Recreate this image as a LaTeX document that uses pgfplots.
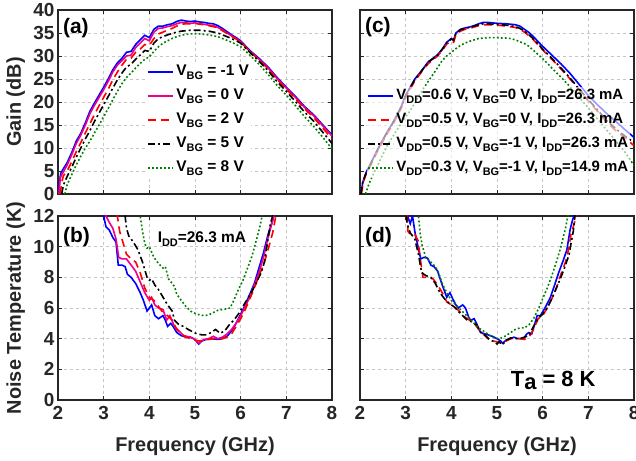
\documentclass[border=0pt]{standalone}
\usepackage{fontspec}
\setmainfont{Liberation Sans}
\usepackage{pgfplots}
\pgfplotsset{compat=1.18}

\definecolor{axgray}{RGB}{38,38,38}
\definecolor{mgreen}{RGB}{0,128,0}

\newcommand\fT{\fontsize{19}{22}\selectfont\bfseries}
\newcommand\fL{\fontsize{20}{24}\selectfont\bfseries}
\newcommand\fG{\fontsize{15.5}{18}\selectfont\bfseries}
\newcommand\fGc{\fontsize{15}{18}\selectfont\bfseries}
\newcommand\fP{\fontsize{21}{24}\selectfont\bfseries}
\newcommand\sub[1]{\raisebox{-4bp}{\fontsize{11}{11}\selectfont\bfseries #1}}

\pgfplotsset{
  panel/.style={
    width=274bp, height=184bp, scale only axis, anchor=south west,
    xmin=2, xmax=8, xtick={2,...,8},
    grid=major, grid style={dashed, gray!45, line width=0.5bp},
    axis line style={line width=1.4bp, draw=axgray},
    tick style={line width=0.8bp, draw=axgray},
    tick align=inside, major tick length=4bp,
    ticklabel style={font=\fT, text=axgray},
    xticklabel style={yshift=-3bp},
    /pgf/number format/assume math mode=true,
    every axis x label/.style={at={(axis description cs:0.5,0)}, anchor=base, yshift=-52bp, font=\fL, text=axgray},
    every axis y label/.style={at={([xshift=-37bp]axis description cs:0,0.5)}, rotate=90, anchor=base, font=\fL, text=axgray},
    every axis plot/.append style={line width=1.6bp},
    legend image code/.code={\draw[#1] (0bp,0bp) -- (25bp,0bp);},
    legend cell align=left,
  },
  lgd/.style={legend style={font=\fG, draw=none, inner sep=0bp, row sep=5bp,
    nodes={text height=11.5bp, text depth=4.5bp, inner sep=1.5bp},
    /tikz/every odd column/.append style={column sep=1bp}}},
  sB/.style={blue, solid},
  sM/.style={magenta, solid},
  sR/.style={red, dash pattern=on 8bp off 5bp},
  sK/.style={black, dash pattern=on 7bp off 3bp on 2bp off 3bp},
  sG/.style={mgreen, dash pattern=on 1.8bp off 2.2bp},
}

\begin{document}
\begin{tikzpicture}[x=1bp,y=1bp]

% ---------------- (a) gain vs V_BG
\begin{axis}[panel, lgd, at={(58bp,267bp)}, ymin=0, ymax=40, ytick={0,5,...,40},
  xticklabels={}, ylabel={Gain (dB)},
  legend style={fill=white, at={(0.325,0.715)}, anchor=north west}]
\addplot[sB] table {
2.00 0
2.03 2.5
2.06 4.5
2.10 5.2
2.2 6.8
2.3 9.0
2.4 11.5
2.5 13.2
2.6 15.5
2.7 18.0
2.8 19.8
2.9 21.5
3.0 23.2
3.1 25.0
3.2 27.0
3.3 28.5
3.4 29.5
3.5 30.8
3.6 31.0
3.7 32.5
3.8 33.5
3.9 34.5
4.0 34.0
4.1 35.8
4.2 36.5
4.3 36.5
4.4 36.8
4.5 37.0
4.6 37.5
4.7 37.8
4.8 37.6
4.9 37.5
5.0 37.6
5.1 37.4
5.2 37.3
5.3 37.1
5.4 37.0
5.5 36.6
5.6 36.0
5.7 35.3
5.8 34.6
5.9 34.0
6.0 33.3
6.2 31.2
6.4 29.5
6.6 27.6
6.8 25.3
7.0 23.2
7.2 21.2
7.4 19.0
7.6 17.2
7.8 15.0
8.0 12.8
};
\addplot[sM] table {
2.02 0
2.05 3.5
2.1 4.5
2.2 6.3
2.3 8.5
2.4 11.0
2.5 12.8
2.6 15.0
2.7 17.5
2.8 19.3
2.9 21.0
3.0 22.7
3.1 24.5
3.2 26.5
3.3 28.0
3.4 29.0
3.5 30.0
3.6 30.2
3.7 31.8
3.8 32.8
3.9 33.8
4.0 33.3
4.1 35.2
4.2 36.0
4.3 36.1
4.4 36.4
4.5 36.6
4.6 37.0
4.7 37.3
4.8 37.2
4.9 37.1
5.0 37.2
5.1 37.0
5.2 36.9
5.3 36.7
5.4 36.6
5.5 36.2
5.6 35.7
5.7 35.0
5.8 34.4
5.9 33.8
6.0 33.1
6.2 31.0
6.4 29.3
6.6 27.4
6.8 25.1
7.0 23.0
7.2 21.0
7.4 18.8
7.6 17.0
7.8 14.8
8.0 12.6
};
\addplot[sR] table {
2.05 0
2.08 2.5
2.12 4.0
2.2 5.0
2.3 7.0
2.4 9.2
2.5 11.2
2.6 13.3
2.7 15.3
2.8 17.3
2.9 19.2
3.0 21.0
3.1 22.8
3.2 24.8
3.3 26.5
3.4 28.0
3.5 29.3
3.6 29.5
3.7 30.8
3.8 31.5
3.9 32.5
4.0 32.3
4.1 33.8
4.2 34.8
4.3 35.2
4.4 35.6
4.5 36.0
4.6 36.5
4.7 36.9
4.8 37.0
4.9 37.0
5.0 37.1
5.1 36.9
5.2 36.8
5.3 36.6
5.4 36.4
5.5 36.1
5.6 35.5
5.7 34.9
5.8 34.3
5.9 33.7
6.0 33.0
6.2 31.0
6.4 29.2
6.6 27.2
6.8 24.9
7.0 22.8
7.2 20.7
7.4 18.5
7.6 16.6
7.8 14.3
8.0 12.0
};
\addplot[sK] table {
2.08 0
2.12 2.0
2.2 3.8
2.3 5.8
2.4 8.0
2.5 10.0
2.6 12.0
2.7 13.8
2.8 15.8
2.9 17.6
3.0 19.4
3.1 21.2
3.2 23.0
3.3 24.8
3.4 26.3
3.5 27.6
3.6 28.2
3.7 29.3
3.8 30.2
3.9 31.2
4.0 31.0
4.1 32.8
4.2 33.8
4.3 34.2
4.4 34.6
4.5 34.9
4.6 35.2
4.7 35.4
4.8 35.5
4.9 35.6
5.0 35.6
5.1 35.6
5.2 35.5
5.3 35.4
5.4 35.2
5.5 35.0
5.6 34.6
5.7 34.2
5.8 33.8
5.9 33.3
6.0 32.8
6.2 30.8
6.4 28.9
6.6 26.8
6.8 24.4
7.0 22.3
7.2 20.1
7.4 17.8
7.6 15.8
7.8 13.4
8.0 11.0
};
\addplot[sG] table {
2.15 0
2.2 2.0
2.3 4.2
2.4 6.3
2.5 8.2
2.6 10.0
2.7 11.5
2.8 13.3
2.9 15.0
3.0 16.8
3.1 18.6
3.2 20.5
3.3 22.3
3.4 24.0
3.5 25.3
3.6 26.3
3.7 27.4
3.8 28.4
3.9 29.3
4.0 29.8
4.1 31.0
4.2 32.0
4.3 32.8
4.4 33.3
4.5 33.8
4.6 34.2
4.7 34.5
4.8 34.7
4.9 34.8
5.0 34.8
5.1 34.8
5.2 34.7
5.3 34.6
5.4 34.4
5.5 34.2
5.6 33.8
5.7 33.4
5.8 33.0
5.9 32.5
6.0 32.0
6.2 30.2
6.4 28.2
6.6 26.0
6.8 23.6
7.0 21.5
7.2 19.2
7.4 16.8
7.6 14.7
7.8 12.3
8.0 9.8
};
\legend{V\sub{BG} = -1 V, V\sub{BG} = 0 V, V\sub{BG} = 2 V, V\sub{BG} = 5 V, V\sub{BG} = 8 V}
\node[font=\fP, anchor=north west, inner sep=0pt] at (rel axis cs:0.018,0.955) {(a)};
\end{axis}

% ---------------- (c) gain vs bias
\begin{axis}[panel, lgd, at={(360bp,267bp)}, ymin=0, ymax=40, ytick={0,5,...,40},
  xticklabels={}, yticklabels={},
  legend style={font=\fGc, fill=white, fill opacity=0.6, text opacity=1, at={(0.026,0.585)}, anchor=north west}]
\addplot[sB] table {
2.02 0
2.06 2.5
2.13 4.6
2.2 6.0
2.3 8.0
2.4 10.0
2.5 11.8
2.6 13.6
2.7 15.2
2.8 17.0
2.9 19.0
3.0 21.5
3.1 23.2
3.2 25.0
3.3 26.2
3.4 27.5
3.5 28.8
3.6 29.5
3.7 30.3
3.8 31.5
3.9 33.0
4.0 33.8
4.05 33.5
4.1 35.0
4.2 35.8
4.3 36.1
4.4 36.3
4.5 36.6
4.6 37.0
4.7 37.3
4.8 37.3
4.9 37.2
5.0 37.1
5.2 37.0
5.4 36.8
5.5 36.5
5.6 35.8
5.7 35.1
5.8 34.2
5.9 33.1
6.0 32.1
6.2 30.2
6.4 28.3
6.6 26.2
6.8 23.8
7.0 21.4
7.2 19.4
7.4 17.5
7.6 15.8
7.8 14.0
8.0 12.3
};
\addplot[sR] table {
2.03 0
2.07 2.5
2.13 4.2
2.2 5.6
2.3 7.6
2.4 9.6
2.5 11.4
2.6 13.2
2.7 14.8
2.8 16.6
2.9 18.6
3.0 21.0
3.1 22.8
3.2 24.6
3.3 25.9
3.4 27.2
3.5 28.4
3.6 29.2
3.7 30.0
3.8 31.2
3.9 32.6
4.0 33.3
4.05 33.0
4.1 34.6
4.2 35.4
4.3 35.8
4.4 36.0
4.5 36.3
4.6 36.6
4.7 36.8
4.8 36.8
4.9 36.8
5.0 36.7
5.2 36.5
5.4 36.2
5.5 35.8
5.6 35.2
5.7 34.4
5.8 33.5
5.9 32.4
6.0 31.3
6.2 29.3
6.4 27.2
6.6 25.0
6.8 22.6
7.0 20.2
7.2 18.0
7.4 15.6
7.6 13.8
7.8 12.2
8.0 10.5
};
\addplot[sK] table {
2.02 0
2.06 2.5
2.13 4.5
2.2 5.9
2.3 7.9
2.4 9.9
2.5 11.7
2.6 13.5
2.7 15.1
2.8 16.9
2.9 18.9
3.0 21.4
3.1 23.1
3.2 24.9
3.3 26.1
3.4 27.4
3.5 28.7
3.6 29.4
3.7 30.2
3.8 31.4
3.9 32.9
4.0 33.7
4.05 33.4
4.1 34.9
4.2 35.7
4.3 36.0
4.4 36.2
4.5 36.5
4.6 36.8
4.7 37.0
4.8 37.0
4.9 36.9
5.0 36.9
5.2 36.7
5.4 36.4
5.5 36.0
5.6 35.4
5.7 34.6
5.8 33.7
5.9 32.6
6.0 31.5
6.2 29.5
6.4 27.4
6.6 25.2
6.8 22.8
7.0 20.5
7.2 18.3
7.4 16.0
7.6 14.2
7.8 12.6
8.0 11.2
};
\addplot[sG] table {
2.12 0
2.2 2.3
2.3 4.5
2.4 6.5
2.5 8.6
2.6 10.6
2.7 12.2
2.8 13.8
2.9 15.3
3.0 16.8
3.1 18.1
3.2 19.8
3.3 21.5
3.4 23.1
3.5 24.6
3.6 26.0
3.7 27.5
3.8 29.0
3.9 30.0
4.0 30.8
4.1 31.6
4.2 32.3
4.3 32.8
4.4 33.2
4.5 33.5
4.6 33.8
4.7 33.9
4.8 34.0
4.9 34.0
5.0 34.0
5.1 33.9
5.2 33.9
5.3 33.8
5.4 33.5
5.5 33.1
5.6 32.7
5.7 32.1
5.8 31.2
5.9 30.3
6.0 29.4
6.2 27.4
6.4 25.4
6.6 23.3
6.8 21.0
7.0 18.7
7.2 16.3
7.4 13.9
7.6 11.6
7.8 9.1
8.0 6.2
};
\legend{V\sub{DD}=0.6 V{,} V\sub{BG}=0 V{,} I\sub{DD}=26.3 mA,
        V\sub{DD}=0.5 V{,} V\sub{BG}=0 V{,} I\sub{DD}=26.3 mA,
        V\sub{DD}=0.5 V{,} V\sub{BG}=-1 V{,} I\sub{DD}=26.3 mA,
        V\sub{DD}=0.3 V{,} V\sub{BG}=-1 V{,} I\sub{DD}=14.9 mA}
\node[font=\fP, anchor=north west, inner sep=0pt] at (rel axis cs:0.018,0.96) {(c)};
\end{axis}

% ---------------- (b) noise vs V_BG
\begin{axis}[panel, at={(58bp,61bp)}, ymin=0, ymax=12, ytick={0,2,...,12},
  xlabel={Frequency (GHz)}, ylabel={Noise Temperature (K)}]
\addplot[sB] table {
2.97 13
3.0 12.0
3.05 11.3
3.12 11.1
3.2 10.6
3.27 10.3
3.32 8.8
3.4 8.8
3.47 8.7
3.52 8.2
3.6 8.0
3.7 7.6
3.8 7.0
3.87 6.5
3.95 5.8
4.05 6.2
4.12 5.5
4.2 5.3
4.3 5.5
4.35 5.2
4.4 4.8
4.47 5.0
4.52 4.8
4.6 4.4
4.7 4.2
4.8 4.1
4.9 4.1
5.0 3.95
5.08 3.65
5.15 3.85
5.25 3.95
5.35 4.0
5.5 3.95
5.6 4.0
5.7 4.15
5.8 4.5
5.9 5.0
6.0 5.6
6.1 6.2
6.2 6.9
6.3 7.6
6.4 8.6
6.5 9.6
6.6 10.8
6.7 11.7
6.75 12.3
6.8 13
};
\addplot[sM] table {
3.02 13
3.05 12.0
3.12 11.6
3.2 11.2
3.27 10.5
3.33 9.3
3.4 9.2
3.5 9.2
3.6 8.8
3.7 8.4
3.8 7.7
3.9 7.0
4.0 6.5
4.05 6.7
4.12 6.2
4.2 6.0
4.3 5.9
4.38 5.2
4.45 5.5
4.55 4.8
4.65 4.5
4.75 4.2
4.9 4.1
5.0 3.95
5.08 3.7
5.2 3.95
5.3 4.0
5.4 4.15
5.5 4.0
5.6 4.1
5.7 4.3
5.8 4.6
5.9 5.0
6.0 5.5
6.1 6.1
6.2 6.7
6.3 7.5
6.4 8.3
6.5 9.3
6.6 10.6
6.7 11.7
6.75 12.4
6.8 13
};
\addplot[sR] table {
3.25 13
3.3 12.0
3.35 11.0
3.42 10.3
3.5 9.5
3.6 9.2
3.7 9.0
3.8 8.3
3.9 7.3
4.0 6.7
4.1 6.5
4.2 6.1
4.3 5.7
4.4 5.5
4.5 5.2
4.6 4.6
4.7 4.3
4.8 4.1
4.9 4.0
5.0 3.9
5.1 3.85
5.2 3.9
5.3 3.95
5.4 4.0
5.5 4.0
5.6 4.0
5.7 4.1
5.8 4.3
5.9 4.8
6.0 5.3
6.1 5.9
6.2 6.6
6.3 7.3
6.4 8.1
6.5 8.8
6.6 9.8
6.7 10.9
6.77 12.0
6.82 13
};
\addplot[sK] table {
3.42 13
3.47 12.0
3.5 11.2
3.55 10.7
3.65 10.3
3.75 9.8
3.85 9.0
3.95 8.0
4.0 7.8
4.05 7.9
4.12 7.5
4.2 7.2
4.3 6.7
4.4 6.2
4.5 5.8
4.55 5.2
4.65 4.9
4.75 4.8
4.85 4.6
4.95 4.45
5.05 4.3
5.15 4.25
5.25 4.25
5.35 4.4
5.45 4.6
5.55 4.35
5.65 4.5
5.75 4.9
5.85 5.2
5.95 5.6
6.05 6.1
6.15 6.6
6.25 7.1
6.35 7.7
6.45 8.3
6.52 9.0
6.6 10.5
6.65 11.5
6.7 12.0
6.73 13
};
\addplot[sG] table {
3.78 13
3.8 12.0
3.85 11.0
3.9 10.2
3.95 9.9
4.0 10.0
4.1 9.3
4.2 8.9
4.3 8.6
4.35 8.7
4.42 7.9
4.5 7.6
4.55 7.4
4.6 6.9
4.7 6.5
4.8 6.1
4.9 5.8
5.0 5.65
5.1 5.55
5.2 5.5
5.3 5.55
5.4 5.7
5.5 5.85
5.6 5.9
5.7 5.95
5.77 6.0
5.85 6.5
5.95 7.2
6.05 7.8
6.15 8.6
6.25 9.4
6.35 10.5
6.42 11.3
6.47 12.0
6.5 13
};
\node[font=\fP, anchor=north west, inner sep=0pt] at (rel axis cs:0.018,0.94) {(b)};
\node[font=\fG, anchor=base west, inner sep=0pt] at (axis cs:4.18,10.25) {I\sub{DD}=26.3 mA};
\end{axis}

% ---------------- (d) noise vs bias
\begin{axis}[panel, at={(360bp,61bp)}, ymin=0, ymax=12, ytick={0,2,...,12},
  yticklabels={}, xlabel={Frequency (GHz)}]
\addplot[sB] table {
3.02 13
3.04 12
3.1 11.5
3.15 12.0
3.2 11.0
3.27 10.0
3.33 9.2
3.4 9.3
3.48 9.25
3.55 8.8
3.62 8.7
3.7 8.4
3.8 7.5
3.9 6.7
3.97 7.0
4.03 6.6
4.1 6.2
4.15 6.0
4.25 6.2
4.31 6.0
4.38 5.4
4.42 5.2
4.5 5.3
4.55 5.0
4.64 4.4
4.75 4.3
4.9 4.15
5.0 4.0
5.08 3.85
5.12 3.7
5.2 3.9
5.3 4.0
5.37 4.1
5.45 4.0
5.58 4.0
5.65 4.3
5.7 4.4
5.76 4.3
5.82 4.9
5.88 5.5
5.95 5.5
6.05 6.0
6.17 6.7
6.25 7.4
6.35 8.3
6.45 9.1
6.53 9.8
6.6 11.1
6.66 11.8
6.71 12.2
6.75 13
};
\addplot[sR] table {
3.02 13
3.05 11.0
3.1 10.8
3.2 10.8
3.27 10.4
3.33 9.0
3.38 8.0
3.5 8.0
3.6 7.9
3.7 7.5
3.8 7.0
3.9 6.4
4.0 6.2
4.1 6.0
4.2 5.7
4.3 5.4
4.4 5.2
4.5 5.0
4.6 4.6
4.7 4.3
4.8 4.0
4.9 3.85
5.0 3.8
5.1 3.7
5.2 3.85
5.3 4.0
5.4 4.05
5.5 4.0
5.6 3.95
5.7 4.1
5.8 4.6
5.9 5.3
6.0 5.5
6.1 6.0
6.2 6.6
6.3 7.3
6.4 8.2
6.5 9.0
6.55 9.6
6.62 10.8
6.7 11.6
6.75 12.4
6.78 13
};
\addplot[sK] table {
3.0 13
3.03 11.5
3.1 10.9
3.2 10.5
3.28 9.5
3.35 8.3
3.45 8.1
3.55 8.0
3.65 7.6
3.75 7.0
3.85 6.6
3.95 6.3
4.05 6.1
4.15 5.8
4.25 5.5
4.35 5.2
4.45 5.1
4.55 4.9
4.65 4.4
4.75 4.2
4.85 3.9
4.95 3.8
5.0 3.65
5.05 3.8
5.12 3.6
5.2 3.9
5.3 4.05
5.4 4.0
5.5 4.0
5.6 4.1
5.7 4.2
5.8 4.8
5.9 5.3
6.0 5.6
6.1 6.0
6.2 6.6
6.3 7.3
6.4 8.0
6.5 8.8
6.58 9.5
6.62 10.2
6.67 11.0
6.7 11.8
6.73 13
};
\addplot[sG] table {
3.25 13
3.28 12.0
3.32 10.8
3.36 10.1
3.44 9.3
3.55 9.0
3.65 8.7
3.72 8.3
3.8 7.6
3.9 7.0
4.0 6.5
4.1 6.2
4.2 5.9
4.3 5.6
4.4 5.3
4.5 5.0
4.6 4.7
4.7 4.5
4.8 4.3
4.9 4.1
5.0 4.0
5.1 4.05
5.2 4.2
5.3 4.4
5.4 4.6
5.5 4.7
5.6 4.7
5.7 4.9
5.8 5.3
5.9 5.9
6.0 6.6
6.1 7.3
6.2 8.1
6.3 9.0
6.4 10.0
6.5 11.2
6.55 12.0
6.58 13
};
\node[font=\fP, anchor=north west, inner sep=0pt] at (rel axis cs:0.018,0.94) {(d)};
\node[font=\fontsize{22}{24}\selectfont\bfseries, anchor=base west, inner sep=0pt] at (axis cs:5.3,0.85) {T\raisebox{-3bp}{a} = 8 K};
\end{axis}

\pgfresetboundingbox
\path[use as bounding box] (0,0) rectangle (636,461);
\end{tikzpicture}
\end{document}
